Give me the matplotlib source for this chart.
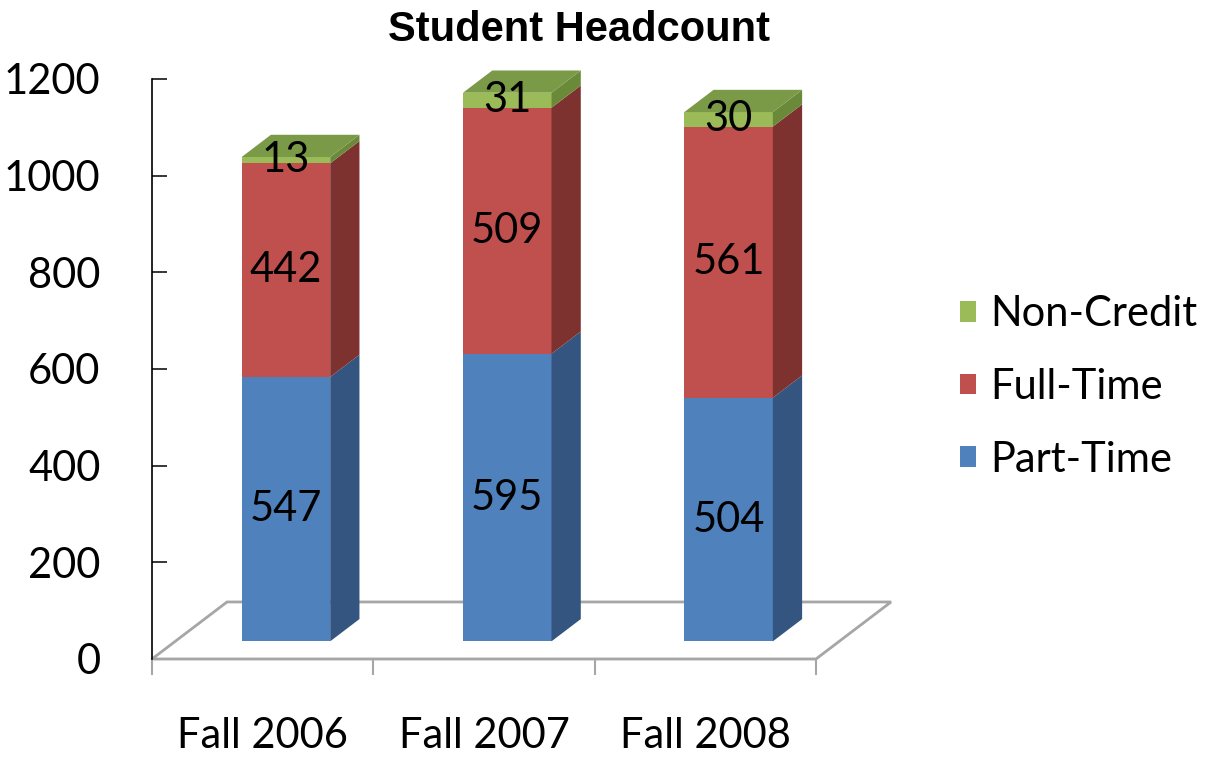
import matplotlib
matplotlib.use("Agg")
import matplotlib.pyplot as plt
from matplotlib.patches import Polygon, Patch

# data
categories = ["Fall 2006", "Fall 2007", "Fall 2008"]
part_time = [547, 595, 504]
full_time = [442, 509, 561]
non_credit = [13, 31, 30]
series_names = ["Part-Time", "Full-Time", "Non-Credit"]
yticks = [0, 200, 400, 600, 800, 1000, 1200]

# excel-ish colours: front face, side face, top face
face = ["#4F81BD", "#C0504D", "#9BBB59"]
side = ["#34557F", "#7D3230", "#6A8A3A"]
top = ["#3F6799", "#A04340", "#7B9A47"]

plt.rcParams["font.family"] = ["Lato", "DejaVu Sans"]
FS = 30

# oblique depth of the floor, in data units (x = category, y = value)
fdx, fdy = 0.339, 118
bar_w = 0.40
z0, z1 = 0.31, 0.70  # bar depth span, as fraction of floor depth

fig = plt.figure(figsize=(12.2, 7.57), dpi=100)
ax = fig.add_axes([152 / 1220, 98 / 757, 664 / 1220, 580 / 757])
ax.set_xlim(-0.5, len(categories) - 0.5)
ax.set_ylim(0, 1200)

# floor
n = len(categories)
floor = Polygon([(-0.5, 0), (n - 0.5, 0), (n - 0.5 + fdx, fdy), (-0.5 + fdx, fdy)],
                closed=True, facecolor="white", edgecolor="#A6A6A6", lw=2,
                clip_on=False, zorder=1)
ax.add_patch(floor)

series = [part_time, full_time, non_credit]
ddx, ddy = (z1 - z0) * fdx, (z1 - z0) * fdy
for i in range(n):
    bottom = 0
    for s, vals in enumerate(series):
        v = vals[i]
        x0 = i - bar_w / 2 + z0 * fdx
        y0 = bottom + z0 * fdy
        x1 = x0 + bar_w
        front = Polygon([(x0, y0), (x1, y0), (x1, y0 + v), (x0, y0 + v)],
                        facecolor=face[s], edgecolor="none", clip_on=False, zorder=3)
        sd = Polygon([(x1, y0), (x1 + ddx, y0 + ddy), (x1 + ddx, y0 + v + ddy), (x1, y0 + v)],
                     facecolor=side[s], edgecolor="none", clip_on=False, zorder=3)
        ax.add_patch(front)
        ax.add_patch(sd)
        if s == len(series) - 1:
            tp = Polygon([(x0, y0 + v), (x1, y0 + v), (x1 + ddx, y0 + v + ddy), (x0 + ddx, y0 + v + ddy)],
                         facecolor=top[s], edgecolor="none", clip_on=False, zorder=3)
            ax.add_patch(tp)
        ax.text(i + z0 * fdx, y0 + v / 2, str(v), ha="center", va="center",
                fontsize=FS, color="black", zorder=5, clip_on=False)
        bottom += v

# axes styling
for sp in ["top", "right"]:
    ax.spines[sp].set_visible(False)
ax.spines["bottom"].set_color("#A6A6A6")
ax.spines["bottom"].set_linewidth(1.5)
ax.spines["bottom"].set_zorder(2)
ax.spines["left"].set_color("black")
ax.spines["left"].set_linewidth(1.2)

ax.set_yticks(yticks)
ax.set_yticklabels([str(t) for t in yticks])
ax.tick_params(axis="y", direction="in", length=10.8, width=1.1, color="black",
               pad=37, labelsize=FS)

ax.set_xticks(range(n))
ax.set_xticklabels(categories)
ax.set_xticks([k - 0.5 for k in range(n + 1)], minor=True)
ax.tick_params(axis="x", which="major", length=0, pad=42, labelsize=FS)
ax.tick_params(axis="x", which="minor", direction="out", length=11.5, width=1.5,
               color="#A6A6A6")

fig.text(0.4746, 1 - 30 / 757, "Student Headcount", ha="center", va="center",
         fontsize=30, fontweight="bold", family=["Liberation Sans", "DejaVu Sans"])

handles = [Patch(facecolor=face[s], edgecolor="none") for s in (2, 1, 0)]
fig.legend(handles, [series_names[s] for s in (2, 1, 0)],
           loc="center left", bbox_to_anchor=(960 / 1220, 1 - 387 / 757),
           frameon=False, fontsize=FS, handlelength=0.38, handleheight=0.38,
           handletextpad=0.35, labelspacing=0.83, borderpad=0, borderaxespad=0)

fig.savefig("out.png", dpi=100)
